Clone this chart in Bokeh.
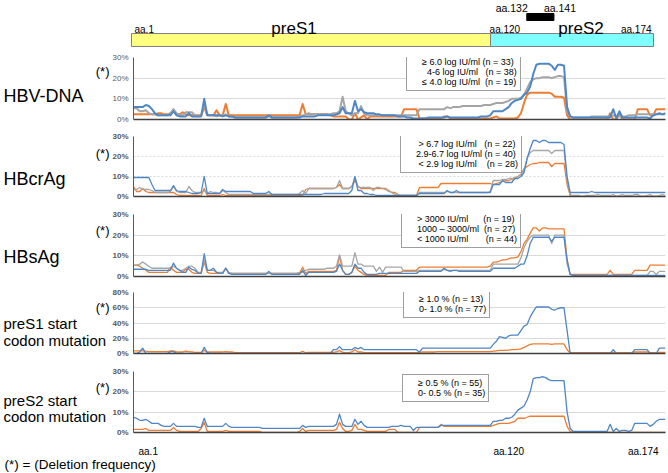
from bokeh.plotting import figure
from bokeh.layouts import column, row
from bokeh.models import Range1d, Label, Legend, LegendItem, FixedTicker, PrintfTickFormatter
from bokeh.embed import file_html
from bokeh.resources import INLINE

FONT = "Liberation Sans"
BLUE, GRAY, ORANGE = "#4F86C6", "#A5A5A5", "#ED7D31"

aa = list(range(1, 175))

# ---------------- data (deletion frequency, %) ----------------
hbvdna_high = [6,6,6,6,7,6.5,5,3,2,2, 2,2,2,4,2,1.5,1.5,1.5,3,1.5, 1.5,1.5,1.5,10,2,2,2,2,2,1.5,
    2,1.5,1.5,1,1,1,1,1,1,1, 1,1,1,1,2,1,1,1,1,1, 1,1,1,1,1,1.5,1.5,1.5,1.5,1.5,
    2,2,2,2,2,2,2.5,3,6,3, 3,3,9,4,5,3.5,3,3,3,2.5, 2.5,2,2,2,2,2,1.5,1.5,1.5,1,
    1,0.5,0.5,0.5,0.5,0.5,1,1,1,1, 1,1,1.5,1,1,1,1,1,1,1, 1,1,1,1.5,1.5,1.5,2,4,4,4,
    4,5,6,8,9,9.5,10,12,13,16, 22,26.5,27,27,27,27,26,24,26.5,26.5, 26,6,1.5,1,1,1,1,1,1,1,
    1,1,1,1,1,1,5,0.5,4,1, 1,1,1,1,1,1,1,1,0.5,2, 2.5,3,2.5,3]
hbvdna_mid = [5.5,5.5,4,4,4.5,3,2.5,2.5,2,2, 2,2,3,5,3,2,2,3.5,3.5,3.5, 2,1.5,2,7,2.5,2,2,1.5,2,2,
    2.5,1.5,1.5,1,1,1,1,1,1,1, 1,1,1,1,1.5,1,1,1,1,1, 1,1,1,1,1.5,2,2.5,3,2.5,2.5,
    2.5,2.5,2.5,2.5,2.5,3,3,4,11,4, 3,2,3,3,6.5,3,2,2,2,2, 2,2,2,2,2,2,2,2,2,2,
    2,2,2,5,5,5,5,5,5,5, 5,5,6,5.5,6,6,6,6.5,6.5,6.5, 6.5,6.5,6.5,6.5,7,7,7,7.5,8,8,
    8,8.5,9,10,10,10,10.5,12,15,18, 19.5,20,20,20.5,20.5,20.5,20,20.5,21,21, 20.5,4,1.5,1,1,1,1,1,1,1.5,
    1.5,1.5,1.5,1.5,1.5,1.5,2,1.5,1.5,1.5, 1.5,2,2,2,2.5,2.5,2.5,2.5,2.5,2.5, 2.5,2.5,2.5,2.5]
hbvdna_low = [2.5,2.5,2.5,2.5,2.5,2.5,2.5,2.5,3,3, 2.5,2.5,3,4,2.5,2.5,3.5,2.5,2,2, 2,2,2,6,2,2,2,4.5,2,2,
    7.5,2,2,2,2,2,2,2,2,2, 2,2,2,2,2,2,2,2,2,2, 2,2,2,2,2,7.5,2.5,2.5,2.5,2.5,
    2.5,2.5,2.5,2.5,2,1.5,1.5,1.5,1.5,1.5, 0,0,3,0,1,2,0,1.5,1.5,1.5, 1.5,1.5,1.5,1.5,1.5,1.5,1.5,1.5,5,5,
    5,5,5,0.5,0.5,0.5,0.5,0.5,0.5,0.5, 0.5,1.5,1.5,0.5,0.5,0.5,0.5,0.5,0.5,0.5, 0.5,0.5,0.5,0.5,0.5,0.5,0.5,1,1.5,0.5,
    0.5,0.5,0.5,0.5,0.5,1,3,8,12,13, 13,13,13,13,13,13,12.5,11,11,11, 10.5,2,0,0,0,0,0,0,0,0,
    0,0,0,0,0,3,0,0,3,0, 0,0,0,0,5,5,5,5,2,2, 5,5,5,5]

hbcrag_high = [9.5,9.5,9.5,9.5,9.5,9.5,6,3,3,3, 3,3,3,5.5,3,2.5,2.5,2.5,2,1.5, 1.5,1.5,2,10,1.5,1.5,1.5,1.5,1.5,3.5,
    2.5,2.5,2.5,2.5,2.5,2.5,2.5,2.5,2.5,1.5, 1.5,1.5,1.5,1.5,2.5,1,1,1,1,1, 1,1,1,1,1,1,1,1,1,1,
    1,1,1.5,1.5,1.5,1.5,1.5,1.5,1.5,1.5, 1.5,3,10,3,3,1.5,1.5,1,1,0.5, 0.5,0.5,0.5,0.5,0.5,0.5,0.5,0.5,0.5,0.5,
    0.5,0.5,0.5,1.5,1.5,1.5,1.5,1.5,1.5,1.5, 1.5,1.5,3,2,2,3,2,2,2,2, 2,2,2,2,2,2,2,6,6,6,
    8,7,7,7,9,9,10,12,19,24, 28,28,27,28,28,27,27,27,27,27, 26,10,2,2,2,2,2,2,2,2.5,
    2,2,2,2,2,2,2,2,2,2, 2,2,2,2,2,2,2,2,2,2, 2,2,2,2]
hbcrag_mid = [3.5,3.5,4.5,3.5,3.5,3.5,3,2,2,2, 2,2,2.5,5,2.5,2,2,2,5,3, 2,2,2,3,1.5,2.5,2,2,1.5,3,
    2,1,1,1,1,1,1,1,1,1, 1,1,1,1,1,1,1,1,1,1, 1,1,1,1,1.5,3,1.5,4,4,4,
    4,4,4,4,4,4,4.5,8,4,4, 4,5,9.5,5,4.5,4.5,4.5,4.5,3,4.5, 4.5,4,3.5,2.5,2,1,0.5,0.5,0.5,0.5,
    0.5,0.5,0.5,2,2,2,2,2,2,2, 2,2,2.5,2,2,2,2,2,2,2, 2,2,2,2,2,2,2.5,8,8,8,
    8.5,8.5,9,9,9.5,10,11,13,19,22, 23,23,23,23,23,23,21.5,23,23,23, 23,8,1,0.5,0.5,0.5,0,0.5,0.5,0.5,
    0.5,1,0.5,0.5,0.5,0.5,1,0,0.5,1, 0.5,0.5,0.5,1,1,0,0,0.5,1,0, 0,0.5,1,0.5]
hbcrag_low = [5,2.5,2.5,4,2.5,2,2,2,2,2, 2,2,2,2,1,0.5,0.5,0.5,0.5,0.5, 0.5,0.5,0.5,4,0.5,0.5,0.5,0.5,0.5,1,
    0.5,0.5,0.5,0.5,0.5,0.5,0.5,0.5,0.5,0.5, 0.5,0.5,0.5,0.5,0.5,0.5,0.5,0.5,0.5,0.5, 0.5,0.5,0.5,0.5,0.5,0.5,3.5,4,4,4,
    4,4,4,4,4,4,4.5,6,4,4, 4,5,8,5,4,4,4,4,4,4, 4,4,4,3,2,2,1,0.5,0.5,0.5,
    0.5,0.5,0.5,4.5,4.5,4.5,4.5,4.5,4.5,4.5, 6.5,6.5,6.5,6.5,6.5,6.5,6.5,6.5,6.5,6.5, 6.5,6.5,6.5,6.5,6.5,6.5,6.5,6,6.5,7,
    7.5,8,8,8.5,9,10,11,14,15,16, 16.5,16.5,17,17,17,17,15,16.5,16.5,16.5, 16.5,6,0.5,0,0,0,0,0,0,0,
    0,0,0,0,0,0,0,0,0,0, 0,0,0,0,0,0,0,0,0,0, 0,0,0,0]

hbsag_high = [3.5,3.5,3.5,3.5,3.5,3,3,3,3,3, 3,3,3,6.5,4,3,2,2,4.5,3.5, 3,1.5,1.5,11,3,3,4,2,1.5,1.5,
    4,1.5,1,1,1,1,1,1,1,1, 1,1,1,1,2.5,1,1,1,1,1, 1,1,1,1,1,3,0.5,2,2,2,
    2,2,2,2,2,2,2.5,6,3,1, 1,2,6,4,4,2,1,1,1,1, 1.5,1.5,1.5,1.5,1.5,1.5,1.5,1.5,1.5,1.5,
    1.5,1.5,1.5,2.5,2.5,2.5,2.5,2.5,2.5,2.5, 2.5,4,3,2.5,3,3,2.5,2.5,2.5,2.5, 2.5,2.5,2.5,2.5,2.5,2.5,2.5,4,4,4,
    4,4,4,4,4,5,6,6,10,16, 19,19,19,19,19,19,17,19,19,19, 19,8,1,0.5,0.5,0.5,0.5,0.5,0.5,0.5,
    0.5,0.5,0.5,0.5,0.5,0.5,0.5,0.5,0.5,0.5, 0.5,0.5,0.5,0.5,0.5,0.5,0.5,0.5,0.5,0.5, 0.5,0.5,0.5,0.5]
hbsag_mid = [5.5,5.5,6,7,6,5,4,4,4,4, 4,4,4,5,4,3,3,4,5,5, 4,2,2,8,3,3,3,2,2,2,
    4,2,1.5,1.5,1.5,1.5,1.5,1.5,1.5,1.5, 1.5,1.5,1.5,1.5,1.5,1.5,1.5,1.5,1.5,1.5, 1.5,1.5,1.5,1.5,2,2,3,3.5,3.5,3.5,
    3.5,3.5,3.5,4,4,4,5,10.5,5,5, 5,5,11.5,6,6,5,5,5,5,2.5, 4.5,2,4.5,4.5,4.5,4.5,4.5,4.5,2.5,2.5,
    2.5,2.5,2.5,3,3,3,3,3,3,3, 3,3.5,3,3,3,3,3,3,3,3, 3,3,3,3,3,3,3,6,6,6,
    6,6,6,6,6,6,9,14,17,19, 20,20,20,20,20,20,16,20,20,20, 20,6,1,0.5,0.5,0.5,0.5,0.5,0.5,0.5,
    0.5,0.5,0.5,0.5,0.5,0.5,0.5,0.5,0.5,0.5, 0.5,0.5,0.5,0.5,0.5,0.5,0.5,0.5,2.5,2.5, 1,2.5,2.5,2.5]
hbsag_low = [5.5,5.5,5,4,3,2,2,2,2,2, 2,2,4.5,3,2,2,2,3.5,3.5,2, 1.5,1.5,1.5,7,2,1.5,1.5,1.5,1.5,1.5,
    4,1.5,1.5,1.5,1.5,1.5,1.5,1.5,1.5,1.5, 1.5,1.5,1.5,1.5,1.5,1.5,1.5,1.5,1.5,1.5, 1.5,1.5,1.5,1.5,1.5,4.5,1.5,2.5,2.5,2.5,
    2.5,2.5,2.5,2.5,2.5,2.5,3,10,3,1, 1,2,5,3,2,1,0.5,0.5,0.5,0.5, 0.5,0.5,0.5,2,2,2,2,2,3,3,
    3,3,3,4.5,4.5,4.5,4.5,4.5,4.5,4.5, 4.5,4.5,4.5,4.5,4.5,4.5,4.5,4.5,4.5,4.5, 4.5,4.5,4.5,4.5,4.5,4.5,5,7,7,7.5,
    8,8,8.5,9,9,9.5,12,16,18,21, 23.5,23.5,22,23.5,23.5,23,23,23,23,23, 23,8,1,1,1,1,1,1,1,1,
    1,1,1,1,1,3,1,1,1,1, 1,1,1,3,3,3,3,3,5.5,5.5, 5.5,5.5,5.5,5.5]

pres1_mut = [0,0,2,7,0,0,0,0,0,0, 0,0,2.5,2.5,0,0,0,0,0,0, 0,0,0,8,1,0,0,0,0,0,
    0,0,0,0,0,0,0,0,0,0, 0,0,0,0,0,0,0,0,0,0, 0,0,0,0,0,0,0,0,0,0,
    0,0,0,0,0,5,5,9,5,5, 5,5,8,6,8,5,5,5,5,5, 5,5,5,5,5,5,5,5,5,5,
    5,5,5,2,7,7,7,7,7,7, 7,7,7,7,7,7,7,7,7,7, 7,7,7,7,7,7,7,12,16,22,
    21,20,23,24,24,24,30,36,38,48, 55,61,61,61,61,61,58,57,59,60, 60,30,0,0,0,0,0,0,0,0,
    0,0,0,0,0,0,5,0,0,0, 0,0,0,5,5,5,5,5,0,0, 0,7,7,7]
pres1_wt = [3.5,3.5,3.5,3.5,3,2.5,2.5,2.5,2.5,2.5, 2.5,2.5,3.5,3.5,2,2,2,3,2.5,2, 1.5,1.5,1.5,4,2,2,2,2,2,2,
    2.5,2,2,1,1,1,1,1,1,1, 1,1,1,1,1,1,1,1,1,1, 1,1,1,1,1,3,1,1.5,1.5,1.5,
    1.5,1.5,1.5,1.5,1.5,1.5,2,4,1.5,1, 1,2,5,2,2,1,1,1,1,1, 1,1,1,1,1,1,1,1,1,1,
    1,1,1,1.5,2,2,2,2,2,2.5, 2.5,2.5,2.5,2.5,2.5,2.5,2.5,2.5,2.5,2.5, 2.5,2.5,2.5,2.5,2.5,2.5,2.5,3,3.5,4,
    4,4,4.5,5,5,5.5,6,8,10,12, 12.5,12.5,12.5,12.5,12.5,12.5,12,12.5,12.5,12.5, 12.5,5,1,1,1,1,1,1,1,1,
    1,1,1,1,1,1,1,1,1,1, 1,1,1,2,2,2,2,2,1,1, 1,1.5,1.5,1.5]

pres2_mut = [7.5,7,6,6,6.5,5.5,4.5,4.5,4.5,3.5, 3,3,3,4.5,3,3,3,3,3,3, 3,2.5,2.5,7,3,3,3,3,3,3,
    4.5,3,2.5,2.5,2.5,2.5,2.5,2.5,2.5,2.5, 2.5,2.5,2,2,2,2,2,2,2,2, 2,2,2,2,2,3.5,2.5,3,3,3,
    3,3,3,3,3,3,4,9,4,3, 3,3,6.5,4,5.5,3.5,2.5,2.5,2.5,2.5, 2.5,2.5,2.5,2.5,3,3,3,3.5,3,3,
    3,1,2.5,2.5,2.5,2.5,2.5,2.5,2.5,2.5, 3.5,3.5,3.5,3.5,3.5,3.5,3.5,3.5,3.5,3.5, 3.5,3.5,3.5,3.5,3.5,3.5,3.5,5.5,5.5,6,
    6,7,7,7.5,9,11,12,13,16,20, 26.5,27,27,27.5,27,26,25.5,25.5,25.5,25.5, 25.5,10,2,0.5,0.5,0.5,0.5,0.5,0.5,0.5,
    0.5,0.5,0.5,0.5,0.5,4,0.5,2,0.5,1, 1,0.5,1,4.5,4.5,4.5,4.5,4.5,3,4, 5.5,6.5,6.5,6.5]
pres2_wt = [1.5,1.5,1.5,1.5,2,1,1,1,1,1, 1,1,1,2.5,1,0.5,0.5,0.5,0.5,0.5, 0.5,0.5,2,5,0.5,0.5,0.5,0.5,0.5,0.5,
    1,0.5,0.5,0.5,0.5,0.5,0.5,0.5,0.5,0.5, 0.5,0.5,0,0,0,0,0,0,0,0, 0,0,0,0,0.5,2,0.5,1,1,1,
    1,1,1,1,1,1,1.5,5,2,0.5, 0.5,1,4,1.5,1.5,1,0.5,0.5,0.5,0.5, 0.5,0.5,0.5,1.5,1.5,1.5,0,0,0,0,
    0,0,0,2.5,2.5,2.5,2.5,2.5,2.5,2.5, 4,3,3,3,3,3,3,3,3,3, 3,3,3,3,3,3,3,3.5,4,4.5,
    4.5,4.5,4.5,5,5.5,7,7,7,7.5,8, 8,8,8,8,8,8,8,8,8,8, 8,3,0.5,0,0,0,0,0,0,0,
    0,0,0,0,0,0,0,0,0,0, 0,0,0,0,0,0,0,0,0,0, 0,0,0,0]

for s in [hbvdna_high, hbvdna_mid, hbvdna_low, hbcrag_high, hbcrag_mid, hbcrag_low,
          hbsag_high, hbsag_mid, hbsag_low, pres1_mut, pres1_wt, pres2_mut, pres2_wt]:
    assert len(s) == 174, len(s)

# ---------------- labels ----------------
panel_names = [["HBV-DNA"], ["HBcrAg"], ["HBsAg"],
               ["preS1 start", "codon mutation"], ["preS2 start", "codon mutation"]]
legend_hbvdna = ["\u2265 6.0 log IU/ml (n = 33)", "\u00a0\u00a04-6 log IU/ml\u00a0\u00a0\u00a0(n = 38)",
                 "\u2264 4.0 log IU/ml\u00a0\u00a0(n = 19)"]
legend_hbcrag = ["\u00a0> 6.7 log IU/ml\u00a0\u00a0\u00a0(n = 22)", "2.9-6.7 log IU/ml (n = 40)",
                 "\u00a0< 2.9 log IU/ml\u00a0\u00a0\u00a0\u00a0(n = 28)"]
legend_hbsag = ["> 3000 IU/ml\u00a0\u00a0\u00a0\u00a0\u00a0\u00a0(n = 19)", "1000 \u2013 3000/ml\u00a0\u00a0(n = 27)",
                "< 1000 IU/ml\u00a0\u00a0\u00a0\u00a0\u00a0\u00a0\u00a0(n = 44)"]
legend_pres1 = ["\u2265 1.0 % (n = 13)", "0- 1.0 % (n = 77)"]
legend_pres2 = ["\u2265 0.5 % (n = 55)", "0- 0.5 % (n = 35)"]

regions = ["preS1", "preS2"]
region_start = [1, 120]
region_end = [120, 174]
region_colors = ["#FFFF80", "#7FFFFF"]
deletion_start = [132]
deletion_end = [141]
axis_names = ["aa.1", "aa.120", "aa.174"]
axis_pos = [1, 120, 174]

W = 668
LW = 109          # width of the left label column
FL = 24           # panel border left of frame (tick labels)
FR = 3
PW = W - LW


def lab(p, text, x, y, size, align="left", xu="data", yu="data", style="normal",
        color="#000000", x_offset=0):
    p.add_layout(Label(x=x, y=y, x_units=xu, y_units=yu, text=text, text_font=FONT,
                       text_font_size=size, text_align=align, text_baseline="middle",
                       text_color=color, text_font_style=style, x_offset=x_offset))


def blank(width, height, x_range, y_range):
    f = figure(width=width, height=height, x_range=x_range, y_range=y_range,
               output_backend="svg", toolbar_location=None, x_axis_location=None,
               y_axis_location=None, min_border_left=0, min_border_right=0,
               min_border_top=0, min_border_bottom=0)
    f.grid.visible = False
    f.outline_line_color = None
    return f


def full_range(left_px, right_px):
    # x range for a full-width frame so that aa 1 sits at left_px and aa 174 at right_px
    sc = (right_px - left_px) / (174 - 1)
    return Range1d(1 - left_px / sc, 174 + (W - right_px) / sc)


# ---------------- top region bar ----------------
TOP_H = 50
top = blank(W, TOP_H, full_range(131, 653), Range1d(0, TOP_H))
top.quad(left=region_start, right=region_end, bottom=4, top=17, fill_color=region_colors,
         line_color="#7F7F7F", line_width=1)
top.quad(left=deletion_start, right=deletion_end, bottom=30, top=37, fill_color="#000000",
         line_color="#000000")
lab(top, "aa.%d" % deletion_start[0], deletion_start[0], 43, "10.5px", align="right", x_offset=1)
lab(top, "aa.%d" % deletion_end[0], deletion_end[0], 43, "10.5px", align="left", x_offset=-10)
lab(top, axis_names[0], region_start[0], 21, "10px", align="left", x_offset=3)
lab(top, axis_names[1], region_start[1], 21, "10px", align="left", x_offset=-1)
lab(top, axis_names[2], region_end[1], 21, "10px", align="right", x_offset=-2)
lab(top, regions[0], (region_start[0] + region_end[0]) / 2, 22, "17px", align="center", x_offset=-17)
lab(top, regions[1], (region_start[1] + region_end[1]) / 2, 22, "17px", align="center", x_offset=9)


def panel(height, btop, bbot, ymax, ticks, series, labels, lw, grid_dash, bold, legend_xy,
          names, name_y, name_size, star_y):
    p = figure(width=PW, height=height, x_range=Range1d(1, 174), y_range=Range1d(0, ymax),
               output_backend="svg", toolbar_location=None, min_border_left=FL,
               min_border_right=FR, min_border_top=btop, min_border_bottom=bbot)
    p.outline_line_color = None
    p.xgrid.visible = False
    p.ygrid.ticker = FixedTicker(ticks=ticks)
    p.ygrid.grid_line_color = "#D9D9D9"
    if grid_dash:
        p.ygrid.grid_line_dash = grid_dash
    yax = p.yaxis[0]
    yax.ticker = FixedTicker(ticks=ticks)
    yax.formatter = PrintfTickFormatter(format="%d%%")
    yax.major_tick_line_color = None
    yax.minor_tick_line_color = None
    yax.major_tick_out = 0
    yax.minor_tick_out = 0
    yax.major_tick_in = 0
    yax.axis_line_color = "#595959"
    yax.major_label_text_font = FONT
    yax.major_label_text_font_size = "8px"
    yax.major_label_text_color = "#595959"
    yax.major_label_text_font_style = "bold" if bold else "normal"
    yax.major_label_standoff = 5
    xax = p.xaxis[0]
    xax.ticker = FixedTicker(ticks=[])
    xax.major_label_text_font_size = "0px"
    xax.major_tick_line_color = None
    xax.minor_tick_line_color = None
    xax.major_tick_out = 0
    xax.minor_tick_out = 0
    xax.major_label_standoff = 0
    xax.axis_line_color = "#404040"
    xax.axis_line_width = 1.5
    items = []
    for arr, col in reversed(series):
        p.line(aa, arr, line_color=col, line_width=lw, line_join="round")
    for (arr, col), txt in zip(series, labels):
        d = p.line(x=[], y=[], line_color=col, line_width=3)
        items.append(LegendItem(label=txt, renderers=[d]))
    leg = Legend(items=items, location=legend_xy, label_text_font=FONT,
                 label_text_font_size="9px", label_text_color="#000000",
                 glyph_width=7, glyph_height=9, label_height=9, label_standoff=5,
                 spacing=0, padding=3, margin=0, border_line_color="#404040",
                 border_line_width=1, background_fill_color="#FFFFFF",
                 background_fill_alpha=1)
    p.add_layout(leg)

    lf = blank(LW, height, Range1d(0, LW), Range1d(0, height))
    lab(lf, "(*)", LW, star_y, "13px", align="right")
    for nm, ny in zip(names, name_y):
        lab(lf, nm, 3, ny, name_size)
    return row(lf, p, spacing=0)


r1 = panel(76, 7, 7, 30, [0, 10, 20, 30],
           [(hbvdna_high, BLUE), (hbvdna_mid, GRAY), (hbvdna_low, ORANGE)],
           legend_hbvdna, 2, None, False, (273, 28), panel_names[0], [29], "18px", 59)
r2 = panel(77, 10, 7, 30, [0, 10, 20, 30],
           [(hbcrag_high, BLUE), (hbcrag_mid, GRAY), (hbcrag_low, ORANGE)],
           legend_hbcrag, 1.3, "2 2", True, (267, 23), panel_names[1], [23], "18px", 55)
r3 = panel(80, 11, 7, 30, [0, 10, 20, 30],
           [(hbsag_high, BLUE), (hbsag_mid, GRAY), (hbsag_low, ORANGE)],
           legend_hbsag, 1.3, None, True, (268, 28), panel_names[2], [25], "18px", 59)
r4 = panel(77, 9, 7, 80, [0, 20, 40, 60, 80],
           [(pres1_mut, BLUE), (pres1_wt, ORANGE)],
           legend_pres1, 1.3, None, True, (270, 35), panel_names[3], [38, 16], "15px", 58)
r5 = panel(79, 11, 7, 30, [0, 10, 20, 30],
           [(pres2_mut, BLUE), (pres2_wt, ORANGE)],
           legend_pres2, 1.3, None, True, (269, 30), panel_names[4], [42, 21], "15px", 58)

# ---------------- bottom labels ----------------
BOT_H = 33
bot = blank(W, BOT_H, full_range(LW + FL, W - FR), Range1d(0, BOT_H))
lab(bot, axis_names[0], axis_pos[0], 21, "10px", align="left", x_offset=5)
lab(bot, axis_names[1], axis_pos[1], 21, "10px", align="left", x_offset=-6)
lab(bot, axis_names[2], axis_pos[2], 21, "10px", align="right", x_offset=-7)
lab(bot, "(*) = (Deletion frequency)", 4, 8, "13.5px", align="left", xu="screen")

layout = column(top, r1, r2, r3, r4, r5, bot, spacing=0)
open("out.html", "w").write(file_html(layout, INLINE))
